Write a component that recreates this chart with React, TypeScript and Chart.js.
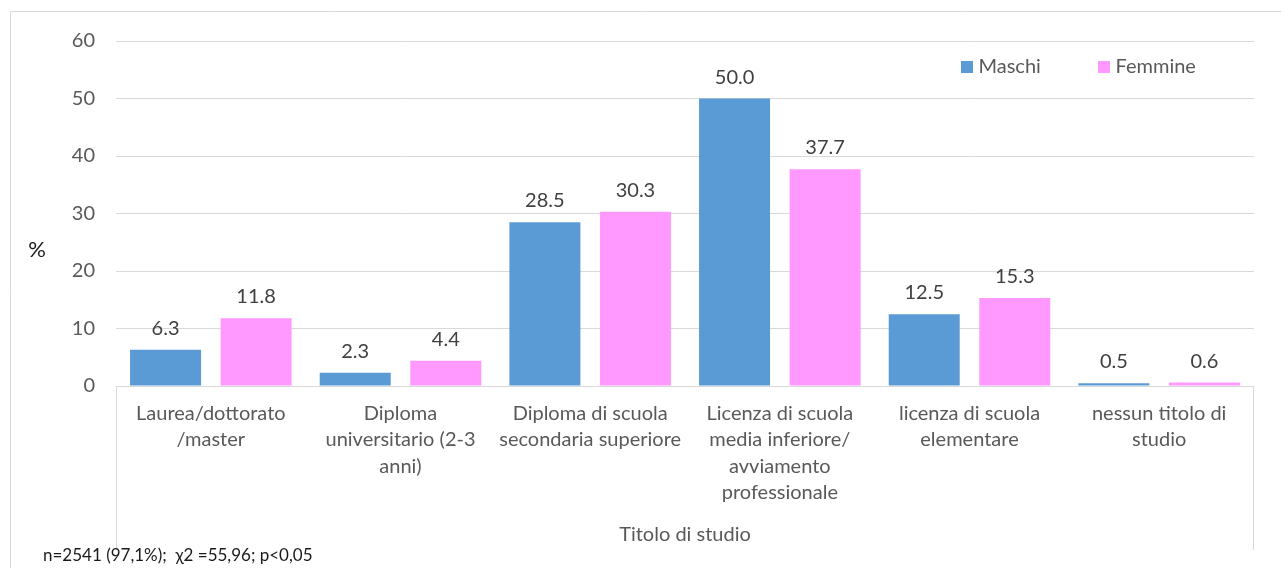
import React, { useEffect, useRef } from "react";
import { Chart, registerables } from "chart.js";

Chart.register(...registerables);

const categories: string[][] = [
  ["Laurea/dottorato", "/master"],
  ["Diploma", "universitario (2-3", "anni)"],
  ["Diploma di scuola", "secondaria superiore"],
  ["Licenza di scuola", "media inferiore/", "avviamento", "professionale"],
  ["licenza di scuola", "elementare"],
  ["nessun titolo di", "studio"],
];
const maschi = [6.3, 2.3, 28.5, 50.0, 12.5, 0.5];
const femmine = [11.8, 4.4, 30.3, 37.7, 15.3, 0.6];
const seriesNames = ["Maschi", "Femmine"];
const seriesColors = ["#5B9BD5", "#FF99FF"];
const yMin = 0;
const yMax = 60;
const yStep = 10;
const yAxisTitle = "%";
const xAxisTitle = "Titolo di studio";
const footnote = "n=2541 (97,1%);  χ2 =55,96; p<0,05";

const FONT = "Lato";
const FS = 20;
const TICK_COLOR = "#595959";
const GRID = "#d9d9d9";
const W = 1281;
const H = 568;

const decorPlugin = {
  id: "decor",
  beforeDraw(chart: any) {
    const { ctx, chartArea } = chart;
    ctx.save();
    ctx.strokeStyle = GRID;
    ctx.lineWidth = 1;
    ctx.beginPath();
    ctx.moveTo(10.5, H);
    ctx.lineTo(10.5, 11.5);
    ctx.lineTo(W, 11.5);
    const l = Math.round(chartArea.left) + 0.5;
    const r = Math.round(chartArea.right) - 0.5;
    ctx.moveTo(l, chartArea.bottom);
    ctx.lineTo(l, 550);
    ctx.moveTo(r, chartArea.bottom);
    ctx.lineTo(r, 550);
    ctx.stroke();
    ctx.restore();
  },
  afterDraw(chart: any) {
    const { ctx } = chart;
    ctx.save();
    // data labels
    ctx.font = `${FS}px ${FONT}`;
    ctx.fillStyle = "#404040";
    ctx.textAlign = "center";
    ctx.textBaseline = "alphabetic";
    chart.data.datasets.forEach((ds: any, i: number) => {
      const meta = chart.getDatasetMeta(i);
      meta.data.forEach((el: any, j: number) => {
        ctx.fillText(Number(ds.data[j]).toFixed(1), el.x, el.y - 15);
      });
    });
    // legend
    const legendPos = [961, 1098];
    ctx.textAlign = "left";
    ctx.textBaseline = "middle";
    chart.data.datasets.forEach((ds: any, i: number) => {
      const x = legendPos[i];
      ctx.fillStyle = ds.backgroundColor;
      ctx.fillRect(x, 61, 12, 12);
      ctx.fillStyle = TICK_COLOR;
      ctx.fillText(ds.label, x + 17.5, 67);
    });
    // y axis title
    ctx.font = `22px ${FONT}`;
    ctx.fillStyle = "#1a1a1a";
    ctx.textAlign = "center";
    ctx.fillText(yAxisTitle, 37, 250);
    // footnote
    ctx.font = `17px ${FONT}`;
    ctx.textAlign = "left";
    ctx.fillStyle = "#1a1a1a";
    ctx.fillText(footnote, 43, 556);
    ctx.restore();
  },
};

export default function App() {
  const ref = useRef<HTMLCanvasElement | null>(null);
  useEffect(() => {
    if (!ref.current) return;
    const chart = new Chart(ref.current, {
      type: "bar",
      data: {
        labels: categories,
        datasets: [
          {
            label: seriesNames[0],
            data: maschi,
            backgroundColor: seriesColors[0],
            categoryPercentage: 0.955,
            barPercentage: 0.784,
          },
          {
            label: seriesNames[1],
            data: femmine,
            backgroundColor: seriesColors[1],
            categoryPercentage: 0.955,
            barPercentage: 0.784,
          },
        ],
      },
      options: {
        responsive: false,
        animation: false,
        devicePixelRatio: 1,
        layout: { padding: { left: 0, right: 27, top: 41, bottom: 0 } },
        plugins: {
          legend: { display: false },
          tooltip: { enabled: false },
        },
        scales: {
          x: {
            grid: { display: false, drawTicks: false },
            border: { display: false },
            ticks: {
              color: TICK_COLOR,
              font: { family: FONT, size: FS, lineHeight: "26.5px" },
              padding: 14,
              maxRotation: 0,
              autoSkip: false,
            },
            title: {
              display: true,
              text: xAxisTitle,
              color: TICK_COLOR,
              font: { family: FONT, size: FS },
              padding: { top: 0, bottom: 21 },
            },
            afterFit(scale: any) {
              scale.height = 182;
            },
          },
          y: {
            min: yMin,
            max: yMax,
            grid: { color: GRID, drawTicks: false },
            border: { display: false },
            ticks: {
              stepSize: yStep,
              color: TICK_COLOR,
              font: { family: FONT, size: FS },
              padding: 21,
            },
            afterFit(scale: any) {
              scale.width = 116;
            },
          },
        },
      },
      plugins: [decorPlugin],
    });
    return () => chart.destroy();
  }, []);
  return (
    <div style={{ position: "fixed", left: 0, top: 0, width: W, height: H, background: "#fff" }}>
      <canvas ref={ref} width={W} height={H} style={{ width: W, height: H, display: "block" }} />
    </div>
  );
}
